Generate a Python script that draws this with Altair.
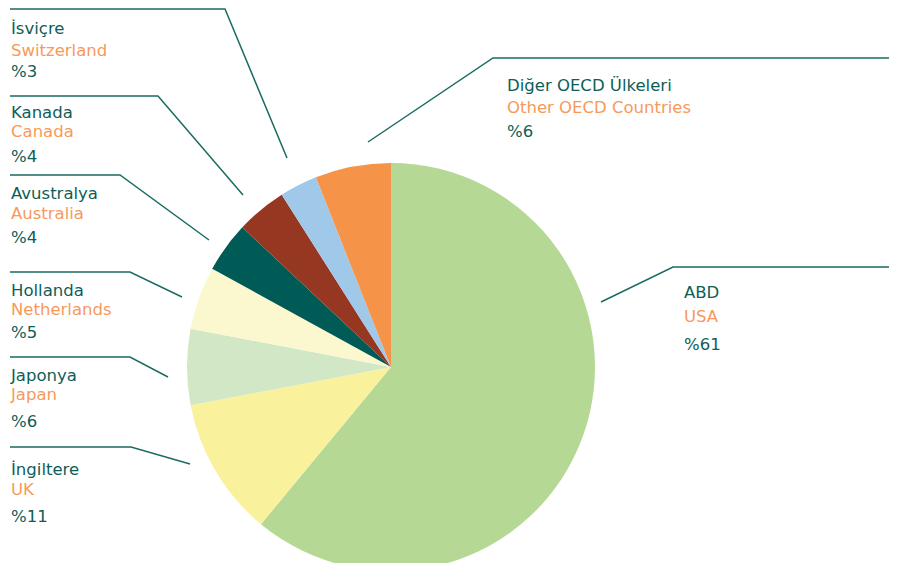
import altair as alt
import pandas as pd

# ---- data ----
countries_tr = ["ABD", "İngiltere", "Japonya", "Hollanda", "Avustralya", "Kanada", "İsviçre", "Diğer OECD Ülkeleri"]
countries_en = ["USA", "UK", "Japan", "Netherlands", "Australia", "Canada", "Switzerland", "Other OECD Countries"]
shares = [61, 11, 6, 5, 4, 4, 3, 6]

# ---- styles ----
slice_colors = ["#b5d894", "#f9f19b", "#d2e7c6", "#fbf8cf", "#005a55", "#963721", "#a0c8e8", "#f59349"]
TEAL = "#0e5e57"
ORANGE = "#f7995a"
LINE = "#1b6b63"

W, H = 881, 555
M = 8  # page margin
CX, CY, R = 391, 367, 204  # pie centre/radius in page pixels

# ---- label layout (page pixels) ----
label_x = [684, 11, 11, 11, 11, 11, 11, 507]
label_y = [
    [298, 322, 350],
    [475, 495, 522],
    [381, 400, 427],
    [296, 315, 338],
    [199, 219, 243],
    [118, 137, 162],
    [34, 56, 77],
    [91, 113, 137],
]
leaders = [
    [(897, 267), (673, 267), (601, 302)],
    [(10, 447), (131, 447), (190, 464)],
    [(10, 357), (130, 357), (168, 377)],
    [(10, 272), (130, 272), (182, 297)],
    [(10, 175), (120, 175), (209, 240)],
    [(10, 96), (158, 96), (243, 195)],
    [(10, 9), (225, 9), (287, 158)],
    [(897, 58), (493, 58), (368, 142)],
]

pie_df = pd.DataFrame({
    "country": countries_en,
    "share": shares,
    "order": list(range(len(shares))),
})

line_rows = []
for i, pts in enumerate(leaders):
    for j, (px, py) in enumerate(pts):
        line_rows.append({"id": i, "seq": j, "px": px, "py": py})
line_df = pd.DataFrame(line_rows)

text_rows = []
for i in range(len(shares)):
    texts = [countries_tr[i], countries_en[i], f"%{shares[i]}"]
    kinds = ["tr", "en", "pct"]
    for t, k, yy in zip(texts, kinds, label_y[i]):
        text_rows.append({"px": label_x[i], "py": yy, "text": t, "kind": k})
text_df = pd.DataFrame(text_rows)

xscale = alt.Scale(domain=[M, M + W], range=[0, W])
yscale = alt.Scale(domain=[M, M + H], range=[0, H])

pie = alt.Chart(pie_df).mark_arc(outerRadius=R, strokeWidth=0).encode(
    theta=alt.Theta("share:Q", stack=True),
    order=alt.Order("order:Q", sort="ascending"),
    color=alt.Color("country:N",
                    scale=alt.Scale(domain=countries_en, range=slice_colors),
                    legend=None),
    x=alt.value(CX - M),
    y=alt.value(CY - M),
)

lines = alt.Chart(line_df).mark_line(color=LINE, strokeWidth=1.5).encode(
    x=alt.X("px:Q", scale=xscale, axis=None),
    y=alt.Y("py:Q", scale=yscale, axis=None),
    detail="id:N",
    order="seq:Q",
)

texts = alt.Chart(text_df).mark_text(
    align="left", baseline="alphabetic", font="DejaVu Sans", fontSize=16.5
).encode(
    x=alt.X("px:Q", scale=xscale, axis=None),
    y=alt.Y("py:Q", scale=yscale, axis=None),
    text="text:N",
    color=alt.Color("kind:N",
                    scale=alt.Scale(domain=["tr", "en", "pct"], range=[TEAL, ORANGE, TEAL]),
                    legend=None),
)

chart = alt.layer(pie, lines, texts).resolve_scale(color="independent").properties(
    width=W, height=H,
    autosize=alt.AutoSizeParams(type="none"),
    padding=0,
).configure_view(stroke=None)

chart.save("out.html", embed_options={"renderer": "svg", "actions": False})
